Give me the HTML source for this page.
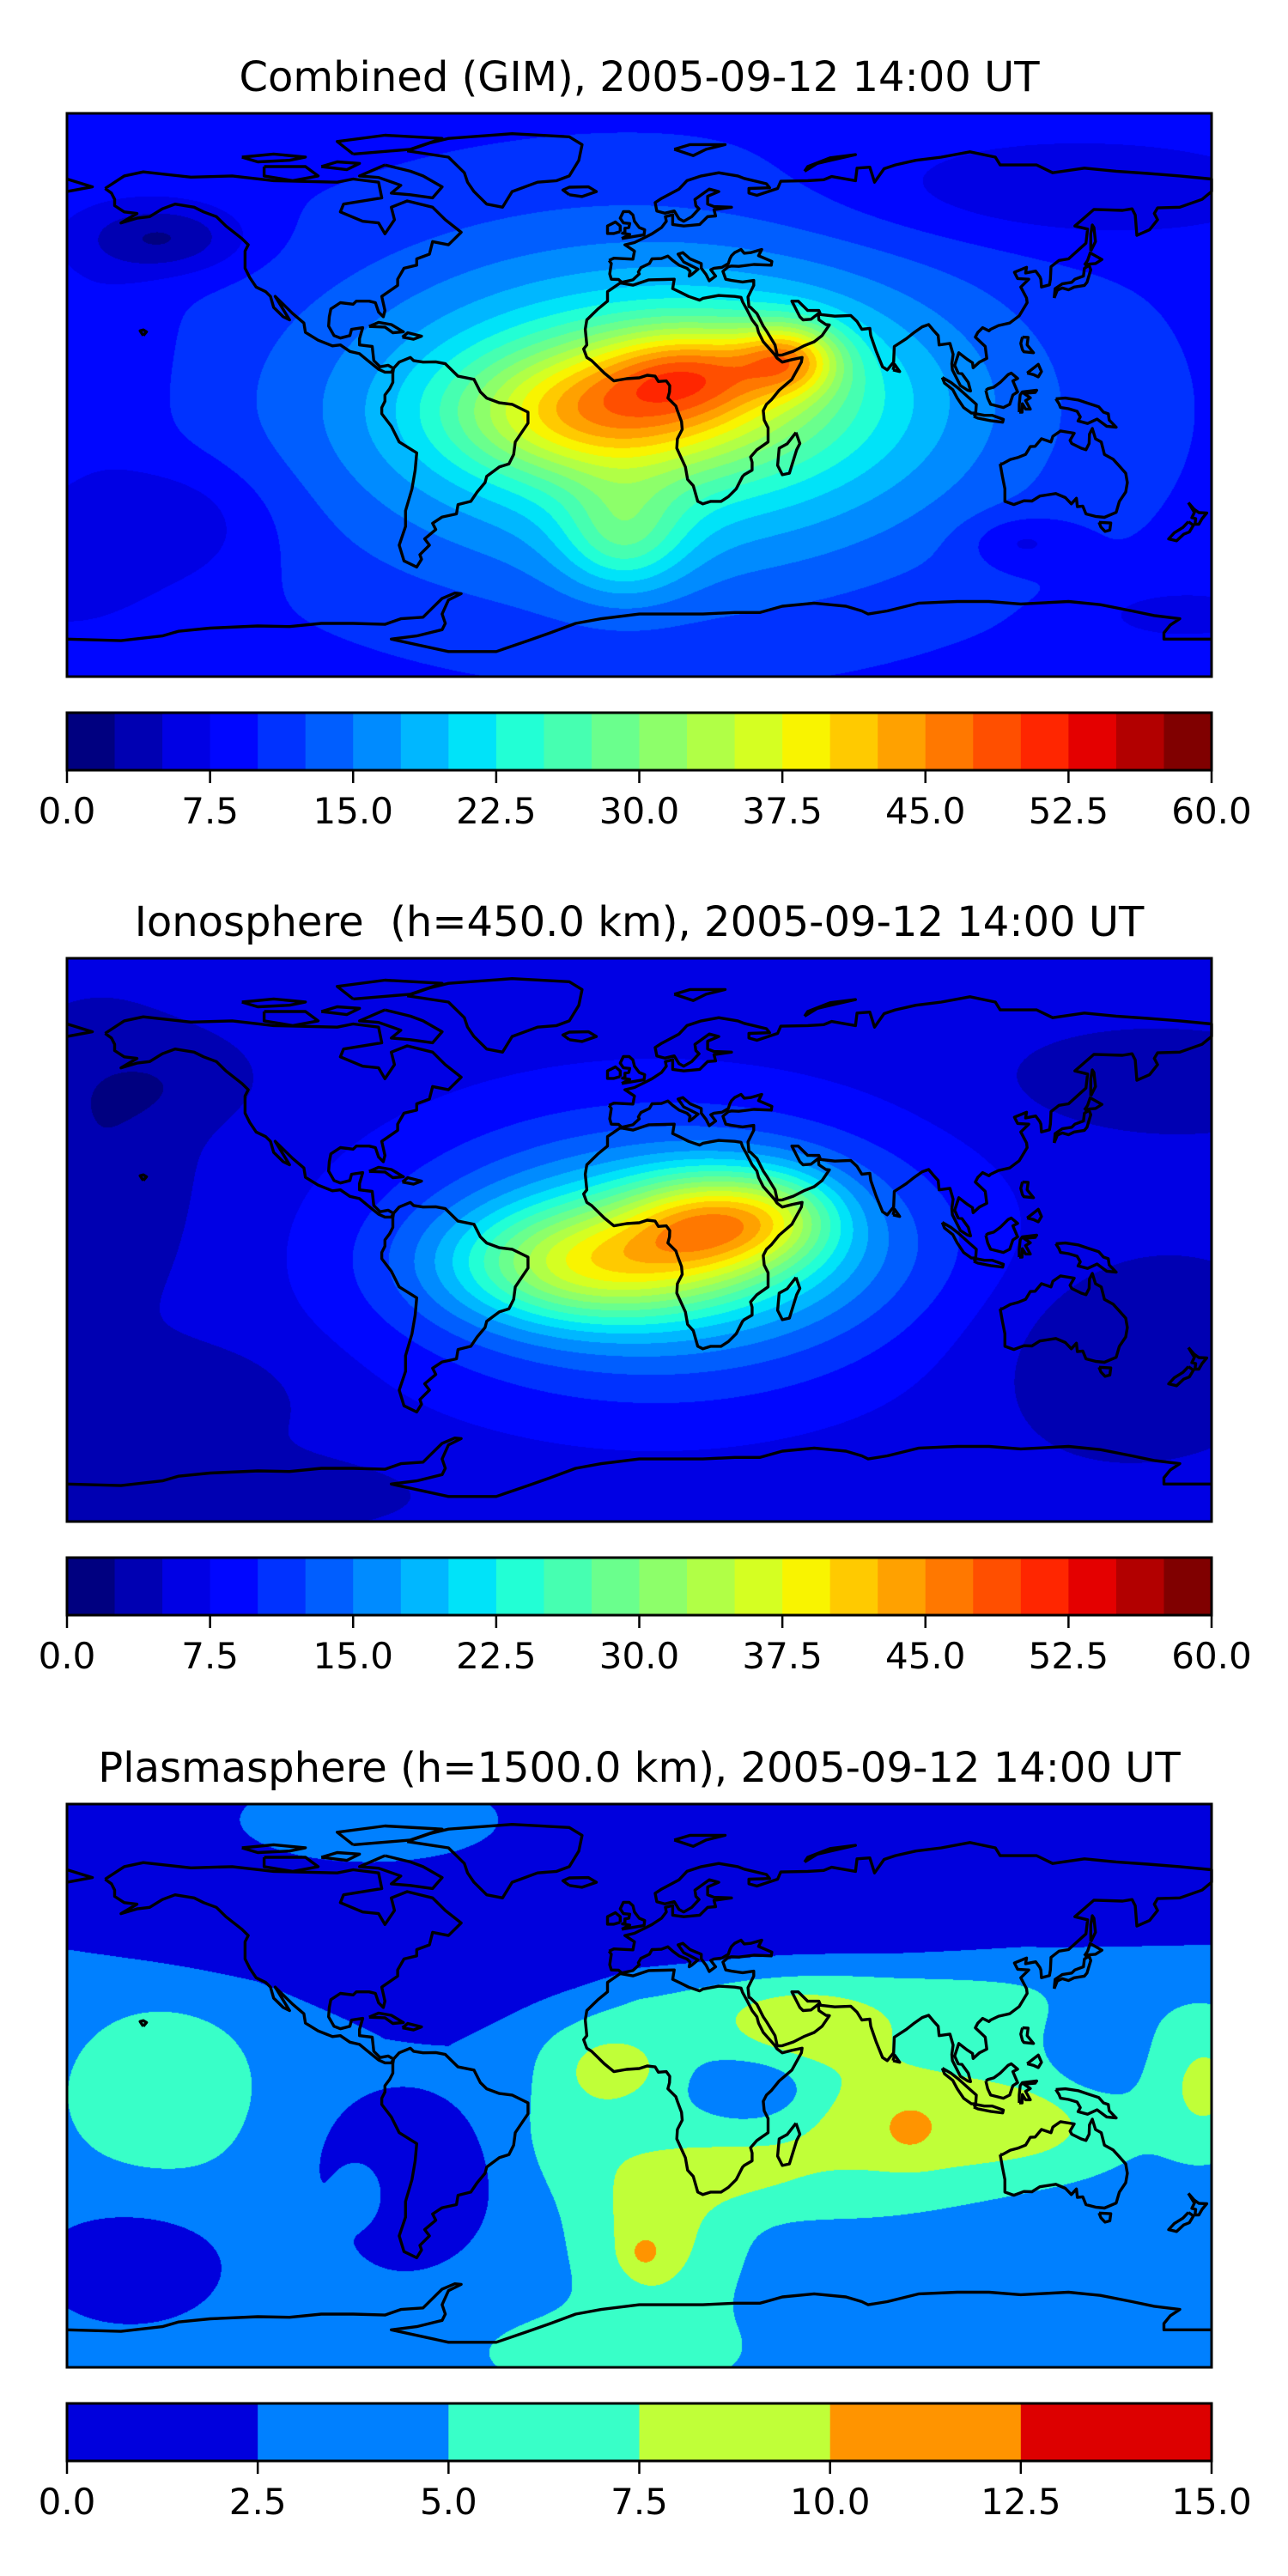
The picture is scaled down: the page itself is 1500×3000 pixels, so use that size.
<!DOCTYPE html>
<html><head><meta charset="utf-8">
<style>
html,body{margin:0;padding:0;background:#fff;}
body{width:1500px;height:3000px;position:relative;overflow:hidden;font-family:"DejaVu Sans","Liberation Sans",sans-serif;}
.title{position:absolute;left:78px;width:1333px;text-align:center;font-size:48px;color:#000;white-space:nowrap;}
.map{position:absolute;left:78px;width:1333px;height:656px;}
.map canvas{position:absolute;left:0;top:0;}
.map svg{position:absolute;left:0;top:0;overflow:visible;}
.cb{position:absolute;left:0;top:0;}
</style></head>
<body>
<div class="title" style="top:62px">Combined (GIM), 2005-09-12 14:00 UT</div>
<div class="map" id="m0" style="top:132px"></div>
<div class="title" style="top:1046px">Ionosphere&nbsp; (h=450.0 km), 2005-09-12 14:00 UT</div>
<div class="map" id="m1" style="top:1116px"></div>
<div class="title" style="top:2031px">Plasmasphere (h=1500.0 km), 2005-09-12 14:00 UT</div>
<div class="map" id="m2" style="top:2101px"></div>
<svg class="cb" id="cbs" width="1500" height="3000"></svg>
<script>
// ---- data ----
// blobs: [lon, lat, amplitude, sigmaLon, sigmaLat]
const combinedBase = 9;
const combinedBlobs = [
 [5,-5,16,72,38],[-18,-6,14,30,14],[18,8,12,20,10],[48,12,15,11,8],[20,0,10,40,18],[-5,-45,10,14,13],
 [-150,50,-7,18,8],[-145,-40,-4,22,14],[120,-47,-4,12,6],[130,65,-4,50,12],[-180,-55,-3,20,15],[170,-70,-3,20,6],
 [-170,10,-2,15,25]
];
const ionoBase = 5.5;
const ionoBlobs = [
 [5,-5,12,60,33],[-18,-8,16,30,13],[22,6,15,18,11],[20,0,10,40,18],[45,8,8,14,10],
 [-170,20,-3,20,30],[-140,-50,-2.5,25,12],[150,-35,-3,30,20],[160,50,-2.5,30,10],[-130,-80,-2.5,40,8],[-150,50,-2,20,10]
];
const plasmaBase = 4;
const plasmaBlobs = [
 [-85,85,2.5,30,10],
 [-75,-30,-4.5,20,20],[-85,-33,3,8,10],[-160,-58,-3.5,22,14],[-150,-3,2.5,22,20],
 [85,-12,5,40,18],[50,18,3,18,10],[85,-14,1.8,6,6],[125,-12,2,15,8],[60,25,2,60,10],
 [-20,-15,2,15,15],[-8,6,4,12,8],[38,-1,-3.5,13,8],[5,-48,4.5,16,20],[1.5,-53.5,2.5,4,4],
 [178,0,4,10,14],[140,10,-1.5,10,12],[130,-48,-1.5,30,10],[-10,-85,2.5,28,9],[30,-28,2.5,18,8]
];
// northern low-density boundary (plasmasphere)
const northBoundLon = [-180,-120,-80,-60,-20,0,40,80,120,180];
const northBoundLat = [42,31,15,12.5,25,33,35.5,38,42,43.5];
const ticksA = ["0.0","7.5","15.0","22.5","30.0","37.5","45.0","52.5","60.0"];
const ticksB = ["0.0","2.5","5.0","7.5","10.0","12.5","15.0"];
const plasmaColors = ["#0000dd","#0080ff","#38ffc8","#c0ff38","#ff9400","#dd0000"];

// ---- coastlines (lon,lat) ----
const coasts = [
[[-168,66],[-162,70],[-156,71.3],[-141,69.6],[-128,70],[-115,68.5],[-95,68],[-90,69],[-82,68],[-81,63],[-93,61],[-94,58.5],[-87,55.5],[-82,55],[-80,51.5],[-77,56],[-78,60],[-73,62],[-65,60],[-61,56],[-56,52],[-60,48],[-65,49],[-66,45],[-70,43.5],[-70,41.5],[-74,40.5],[-76,37],[-76,35],[-81,31.5],[-80,27],[-80.5,25],[-82,26.5],[-83,29.5],[-85,30],[-89,30],[-90,29],[-94,29.5],[-97,27.5],[-97.5,25],[-97.7,22],[-96,19],[-94,18.2],[-91,19],[-90.5,21],[-87,21.5],[-88,18],[-88,16],[-84,15.5],[-83.5,11],[-81.5,9],[-79,9.5],[-77.3,8.5],[-78,7.3],[-80,7.3],[-82,8.2],[-86,11.5],[-88,13.2],[-91,13.9],[-94,16],[-96.5,15.7],[-101,17.5],[-105,20],[-105.5,23],[-109,26],[-112.5,29.5],[-114.5,31.5],[-113,29],[-110,24],[-112,25],[-115,28],[-116,31.5],[-117.5,33],[-120.5,34.5],[-122.5,37.5],[-124,40.5],[-124,46],[-123,48],[-125,50],[-130,54],[-133,57],[-137,58.5],[-140,60],[-146,61],[-150,59.5],[-154,57],[-158,56.5],[-163,55],[-158,58],[-162,58.5],[-165,60.5],[-165,62.5],[-166,64.5],[-168,66]],
[[-73,78],[-66,80.5],[-60,82],[-40,83.5],[-22,82.5],[-18,80],[-19,75],[-22,70],[-26,68.5],[-32,68],[-40,65],[-43,60],[-48,61],[-52,65],[-54,68],[-55,71],[-60,76],[-73,78]],
[[-80,73.5],[-72,71.5],[-68,70],[-62,66.5],[-65,63],[-72,64],[-78,64.5],[-75,67],[-82,69.5],[-88,70],[-80,73.5]],
[[-118,73],[-105,73],[-101,70],[-109,68.5],[-118,70],[-118,73]],
[[-90,77],[-72,78.5],[-62,82],[-80,83],[-95,81],[-90,77]],
[[-125,76],[-115,77],[-105,76],[-110,75],[-120,74.5],[-125,76]],
[[-100,73],[-95,74.5],[-88,74],[-92,72],[-100,73]],
[[-77.3,8.5],[-75.5,10.5],[-72,12],[-71,11],[-68,10.5],[-64,10.6],[-61,10],[-57,6],[-52,5],[-50,1],[-48,-1],[-44,-2.5],[-40,-3],[-35,-5.5],[-35,-9],[-37,-12],[-39,-15],[-39.5,-19],[-41,-22],[-44,-23],[-48,-26],[-48.5,-28],[-51,-31],[-53,-34],[-57,-35],[-57.5,-38],[-62,-39],[-65,-41],[-64,-43],[-67.5,-46],[-66,-48],[-69,-51],[-68.5,-52.5],[-70,-55],[-74,-53],[-75.5,-48],[-73.5,-42],[-73.5,-37],[-71.5,-30],[-70.5,-24],[-70,-18.5],[-75.5,-15],[-78,-10],[-81,-6],[-81,-4],[-80,-2],[-80,0],[-78.5,2],[-77.5,4],[-77.5,7],[-77.3,8.5]],
[[-6,35.8],[-10,33],[-10,30],[-13,27.5],[-16.5,24],[-17,21],[-16.5,16],[-17.5,14.7],[-16.5,12],[-15,11],[-13,9],[-11,7],[-8,4.5],[-4,5.2],[0,5.5],[2.5,6.3],[5,6],[6,4.3],[8.5,4.5],[9.6,3],[9.5,1],[9,-1],[11.5,-3.5],[12,-5],[13.3,-8.5],[13.5,-11],[12,-14],[11.8,-17],[14.5,-23],[15.2,-27],[17,-29],[18.4,-34],[20,-34.8],[22.5,-34],[25.7,-34],[28,-32.5],[30.5,-30],[32.5,-26],[33,-25.5],[35.5,-24],[35.5,-21.5],[35,-19.8],[37,-17.5],[40.5,-15],[40.5,-10.5],[39.3,-8],[39,-5],[40,-3],[41.5,-1.6],[44,1.5],[48,5],[51,10.5],[51.2,12],[48,11.3],[45,10.5],[43.3,11.8],[42.5,13],[39,17],[37.5,20],[37,22],[35.5,24],[34,27],[32.5,29.8],[32,31.2],[30,31.5],[25,31.8],[20,30.9],[19,30.3],[15.5,31.5],[13,32.8],[10.5,34],[11,37],[8,36.9],[3,36.8],[-2,35.1],[-6,35.8]],
[[49.3,-12],[50.5,-15.5],[49.5,-17.5],[47.2,-25],[45,-25.5],[43.5,-22.5],[44,-17],[46.5,-15.6],[49.3,-12]],
[[-9.5,43],[-8,43.7],[-2,43.4],[-1.5,46],[-4.5,48],[-1.5,48.7],[1.5,50.2],[4,51.5],[7,53.5],[8.5,55.5],[8.2,57],[10.5,57.6],[10.5,54.5],[14,54],[19,54.5],[21.5,57],[24,57.2],[23.5,59.2],[29,60],[23.5,60.2],[21.5,61],[21.5,63.5],[25,65],[22,65.8],[17.5,62.5],[17.8,60.5],[18.8,59.5],[16.5,57],[14,55.5],[12.5,56.3],[11,58.8],[8,58.1],[5.5,58.8],[5,61.5],[7,62.8],[12.5,65.8],[15,68.5],[19.5,70],[25,71],[31,70],[33,69.2],[40,67.5],[41,66.2],[34.5,66],[34.5,64.5],[37,63.8],[43.5,66],[44.5,68.3],[53,68.5],[58,68.8],[60.5,69.8],[68,68.5],[68.5,72.5],[72.5,72.8],[74,68],[77,72.3],[80.5,73.5],[87,75],[95,76],[104,77.7],[112,76],[113.5,73.5],[125,73.5],[130,71],[140,72.5],[150,71.5],[160,70.8],[170,70],[180,69],[180,65],[177,62.5],[170,60],[163,59.8],[162,58],[163,56],[160.5,52.8],[156.5,51],[156,57.5],[155,59.5],[152,59],[143,59.3],[137,54],[141,53],[140.5,48.5],[135,43.5],[132,43],[129.5,41],[129.3,37],[129,35.2],[126.5,34.5],[126.3,37],[126,37.8],[124.7,39.6],[121.5,39],[121.8,40.8],[118,39.2],[119,37.2],[122.5,37],[120,34.5],[121.8,31],[122,29.5],[119.5,25.3],[116.5,23],[113,22.2],[110.5,21],[110,20.5],[108,21.5],[106.5,20],[105.7,18.5],[108.8,15.5],[109.3,11.7],[107,10.5],[105,8.7],[104.8,10.3],[103,11.5],[100.5,13.5],[100,12],[99.2,9.5],[100.3,7],[101.5,6.8],[103.5,4],[104.2,1.3],[103.3,1.5],[101,3],[98.5,8],[98.3,10],[98.7,13],[97.7,16.5],[94.3,16],[94,19],[92.5,20.7],[91,22.5],[89,21.8],[86.5,20],[84,18],[80.2,15.5],[80,10.5],[78,8],[76.5,9],[74.5,14],[72.8,19],[72.5,21.3],[70,21],[68.5,23.5],[66.5,25.4],[61.5,25.2],[57,25.7],[56.5,27],[53,27],[50,30],[48,30],[49.5,27],[50.5,25],[51.5,24],[54,24.2],[56.3,26],[56.5,24],[58.7,22.5],[59.8,22.4],[57.5,19],[55,17],[52,15.8],[48.5,14],[45,12.8],[43.4,12.7],[42.7,16],[40,20.5],[39,22],[37,26],[35,28],[34.5,28.2],[34.2,31.3],[35,33],[36,35],[36,36.6],[32.5,36.1],[29,36.6],[27.2,37],[26.3,39.5],[28,41],[29,41.2],[31.3,41.1],[36,41.7],[41.5,41.5],[41.7,42.7],[37.5,44.5],[38.5,46.5],[35,45.5],[33,45.3],[32,46.5],[30,45.5],[29,44.5],[28.5,43.5],[28,42],[26,40.8],[23.5,40.5],[22.5,40],[24,38],[22,36.5],[21,38.5],[19.5,40.5],[19.5,42],[16,43.5],[13.7,45.5],[12.2,45],[14,42.5],[16,41.5],[18.5,40.2],[16.5,38.5],[15.7,38],[16,39.5],[15,40.5],[12.5,41.5],[10.5,43],[9,44.4],[7,43.6],[4,43.5],[3.2,42],[0.5,40.7],[-0.3,39.3],[0,38.7],[-2,36.8],[-5.5,36],[-6.5,36.9],[-8.8,37],[-9.3,38.7],[-8.8,42],[-9.5,43]],
[[-180,69],[-172,66.5],[-180,65]],
[[-5.5,50],[1.5,51.2],[1.7,52.8],[0,53.5],[-1.5,55.5],[-2,57.5],[-3.2,58.6],[-5,58.6],[-6,56.5],[-5,55],[-3,54.8],[-3.3,53.5],[-4.5,53.3],[-4.5,52],[-5.3,51.7],[-3,51.3],[-5.5,50]],
[[-6,52.2],[-6,54],[-7.5,55.3],[-10,54],[-10,51.6],[-8,51.6],[-6,52.2]],
[[-22,64],[-24,65.5],[-22,66.4],[-16,66.5],[-13.5,65],[-18,63.4],[-22,64]],
[[130.5,31],[131.5,33.5],[133,34.2],[135,33.6],[136.8,34.5],[140,35],[140.8,36],[141.5,38.3],[142,40],[141.5,41.4],[140,40.5],[139.7,38],[137,37],[136,36],[133,35.5],[130.8,34],[130.5,31]],
[[140,41.5],[141,43],[141.8,45.4],[145.5,43.3],[143.5,42],[141,41.8],[140,41.5]],
[[142,46],[143.5,49],[143,53.5],[142.5,54.3],[142,51.5],[142,46]],
[[120.5,18.5],[122.3,18.4],[122,16],[124,13.5],[121,13.8],[120.5,14.5],[120,16.5],[120.5,18.5]],
[[122,7],[125.5,9.8],[126.5,7.5],[125.5,5.8],[124,6.5],[122,7]],
[[109,1.5],[109.6,-1],[110.5,-3],[114.5,-4],[116.5,-3],[117.5,0],[119,1],[117.5,4.5],[119,5.3],[117,7],[116,6.5],[113.5,4],[111.5,2.5],[109.7,2],[109,1.5]],
[[95.3,5.6],[98,4],[100.3,2.2],[103.8,-1],[106,-3],[105.8,-5.8],[104.5,-5.8],[102,-4],[100,-1],[98.6,1.7],[96,3.8],[95.3,5.6]],
[[105.2,-6.8],[106,-6],[108.5,-6.5],[111,-6.5],[114.5,-7.8],[114.3,-8.7],[110.5,-8.2],[106.5,-7.4],[105.2,-6.8]],
[[119.5,-5.5],[120.4,-5.5],[120.5,-2.8],[121.5,-4.5],[123,-4.5],[121.5,-1.8],[123,-0.9],[121,0.5],[124.5,0.8],[125,1.5],[120.5,1],[119.8,0],[119.5,-3],[119.5,-5.5]],
[[131,-1.2],[134,-1],[138,-1.6],[141,-2.6],[144.5,-3.8],[146,-5.5],[147.5,-6],[147.8,-8],[150,-10.3],[147,-10],[144,-7.7],[141,-9.1],[138,-8.3],[138.7,-7],[137.7,-5.2],[135,-4.4],[132.5,-4],[132,-2.8],[131,-1.2]],
[[113.5,-22],[114.2,-26],[115,-30],[115,-34],[117.8,-35],[121,-33.8],[123.5,-33.9],[126,-32.3],[131,-31.5],[134,-32.8],[135.9,-34.8],[137.5,-33],[137.8,-35.7],[139.5,-35.5],[140.5,-38],[143.5,-38.8],[146.3,-39.1],[150,-37.5],[151,-34],[153,-31],[153.5,-28],[153,-25],[150.8,-22.5],[149,-20.5],[146.3,-19],[145.3,-15],[143.5,-14],[142.5,-10.7],[141.6,-12.5],[141.5,-15.5],[140.5,-17.5],[139,-17],[136,-15.5],[135.5,-14.5],[136.8,-12.2],[132.5,-11.5],[130.1,-13.2],[129.5,-15],[126.5,-14],[124.5,-16.4],[123,-16.5],[121.5,-19],[119,-20],[116.7,-20.6],[114.2,-22],[113.5,-22]],
[[144.6,-40.7],[148.3,-40.9],[148,-43.2],[146.5,-43.6],[145.2,-42.2],[144.6,-40.7]],
[[172.7,-34.4],[174.5,-36.5],[176,-37.6],[178.5,-37.7],[177,-39.5],[176,-41.3],[174.8,-41.3],[175,-39.5],[173.8,-39.2],[174.6,-37.5],[172.7,-34.4]],
[[172.7,-40.5],[174.3,-41.6],[173,-43.8],[171.2,-44.5],[169,-46.6],[166.5,-46],[168.3,-44],[171,-42.3],[172.7,-40.5]],
[[79.8,8],[81.9,7.5],[80.3,9.8],[79.8,8]],
[[-85,21.9],[-82,23.2],[-78,22.5],[-74.2,20.2],[-77.5,19.9],[-80,21.7],[-85,21.9]],
[[-74.5,18.5],[-72.8,19.9],[-68.5,18.8],[-71,17.8],[-74.5,18.5]],
[[52,71.5],[56,74],[68,76.8],[60,75.8],[53,73],[52,71.5]],
[[11,78.5],[16,80],[27,80],[21,78.5],[17,76.5],[11,78.5]],
[[-156,19],[-155,20.2],[-156,20.8],[-157,20.5],[-156,19]],
[[-180,-78],[-163,-78.5],[-150,-77],[-145,-75.5],[-135,-74.5],[-120,-73.8],[-110,-74],[-100,-73],[-90,-73],[-80,-73.3],[-75,-71.5],[-68,-71],[-65,-68],[-62,-65],[-58,-63.3],[-56,-63.5],[-60,-65.5],[-62,-70],[-61,-73],[-62,-75],[-70,-77],[-78,-78],[-60,-82],[-45,-82],[-35,-78.5],[-28,-76],[-20,-73],[-12,-71.5],[0,-70],[10,-70],[20,-70],[30,-69.5],[38,-69.5],[45,-67.5],[55,-66.5],[65,-67.5],[70,-69],[72,-70],[78,-69],[88,-66.5],[100,-66],[110,-66],[120,-66.8],[135,-66],[145,-67],[155,-69],[162,-70.5],[170,-71.5],[167,-73.5],[165,-76],[165,-78],[170,-78],[180,-78]]
];

const W = 1333, H = 656;
function xOf(lon){ return (lon+180)/360*W; }
function yOf(lat){ return (90-lat)/180*H; }
function lonOf(px){ return px/W*360-180; }
function latOf(py){ return 90-py/H*180; }

function jetMpl(x){
  function seg(pts){ for(let i=0;i<pts.length-1;i++){ const a=pts[i],b=pts[i+1]; if(x>=a[0]&&x<=b[0]){ return a[1]+(b[1]-a[1])*(x-a[0])/(b[0]-a[0]); } } return pts[pts.length-1][1]; }
  const r=seg([[0,0],[0.35,0],[0.66,1],[0.89,1],[1,0.5]]);
  const g=seg([[0,0],[0.125,0],[0.375,1],[0.64,1],[0.91,0],[1,0]]);
  const b=seg([[0,0.5],[0.11,1],[0.34,1],[0.65,0],[1,0]]);
  return [Math.round(r*255),Math.round(g*255),Math.round(b*255)];
}
function hex(c){ return [parseInt(c.slice(1,3),16),parseInt(c.slice(3,5),16),parseInt(c.slice(5,7),16)]; }

const jet24 = []; for(let i=0;i<24;i++) jet24.push(jetMpl(i/23));
const plasma6 = plasmaColors.map(hex);

function northBound(lon){
  for(let i=0;i<northBoundLon.length-1;i++){
    const a=northBoundLon[i], b=northBoundLon[i+1];
    if(lon>=a && lon<=b){ const t=(lon-a)/(b-a); return northBoundLat[i]+(northBoundLat[i+1]-northBoundLat[i])*t; }
  }
  return northBoundLat[northBoundLat.length-1];
}
function field(base, blobs, lon, lat, north){
  let v = base;
  for(const b of blobs){
    const dx=(lon-b[0])/b[3], dy=(lat-b[1])/b[4];
    v += b[2]*Math.exp(-(dx*dx+dy*dy)/2);
  }
  if(north){ v += -2.5/(1+Math.exp(-(lat-northBound(lon))/3)); }
  return v;
}

function drawMap(id, base, blobs, step, cols, name, north){
  const host = document.getElementById(id);
  const cv = document.createElement('canvas');
  
  
  cv.width=W; cv.height=H;
  host.appendChild(cv);
  const ctx=cv.getContext('2d');
  const img=ctx.createImageData(W,H);
  const n=cols.length;
  for(let py=0;py<H;py++){
    const lat=latOf(py+0.5);
    for(let px=0;px<W;px++){
      const v=field(base,blobs,lonOf(px+0.5),lat,north);
      let k=Math.floor(v/step); if(k<0)k=0; if(k>n-1)k=n-1;
      const c=cols[k], o=(py*W+px)*4;
      img.data[o]=c[0]; img.data[o+1]=c[1]; img.data[o+2]=c[2]; img.data[o+3]=255;
    }
  }
  ctx.putImageData(img,0,0);
  const ns='http://www.w3.org/2000/svg';
  const svg=document.createElementNS(ns,'svg');
  svg.setAttribute('width',W); svg.setAttribute('height',H);
  
  
  for(const poly of coasts){
    const pl=document.createElementNS(ns,'polyline');
    
    
    pl.setAttribute('points', poly.map(p=>xOf(p[0]).toFixed(1)+','+yOf(p[1]).toFixed(1)).join(' '));
    pl.setAttribute('fill','none'); pl.setAttribute('stroke','#000'); pl.setAttribute('stroke-width','3.4'); pl.setAttribute('stroke-linejoin','round');
    svg.appendChild(pl);
  }
  const fr=document.createElementNS(ns,'rect');
  
  
  fr.setAttribute('x',0); fr.setAttribute('y',0); fr.setAttribute('width',W); fr.setAttribute('height',H);
  fr.setAttribute('fill','none'); fr.setAttribute('stroke','#000'); fr.setAttribute('stroke-width','3');
  svg.appendChild(fr);
  host.appendChild(svg);
}

drawMap('m0', combinedBase, combinedBlobs, 2.5, jet24, 'combined', false);
drawMap('m1', ionoBase, ionoBlobs, 2.5, jet24, 'ionosphere', false);
drawMap('m2', plasmaBase, plasmaBlobs, 2.5, plasma6, 'plasmasphere', true);

function drawColorbar(top, cols, ticks, name){
  const ns='http://www.w3.org/2000/svg', svg=document.getElementById('cbs');
  const x0=78, w=W, h=67, n=cols.length;
  for(let i=0;i<n;i++){
    const r=document.createElementNS(ns,'rect');
    
    
    r.setAttribute('x',(x0+i*w/n).toFixed(2)); r.setAttribute('y',top);
    r.setAttribute('width',(w/n+0.6).toFixed(2)); r.setAttribute('height',h);
    const c=cols[i]; r.setAttribute('fill','rgb('+c[0]+','+c[1]+','+c[2]+')');
    svg.appendChild(r);
  }
  const fr=document.createElementNS(ns,'rect');
  
  
  fr.setAttribute('x',x0); fr.setAttribute('y',top); fr.setAttribute('width',w); fr.setAttribute('height',h);
  fr.setAttribute('fill','none'); fr.setAttribute('stroke','#000'); fr.setAttribute('stroke-width','3');
  svg.appendChild(fr);
  const m=ticks.length;
  for(let i=0;i<m;i++){
    const x=x0+i*w/(m-1);
    const t=document.createElementNS(ns,'line');
    
    
    t.setAttribute('x1',x); t.setAttribute('x2',x); t.setAttribute('y1',top+h); t.setAttribute('y2',top+h+15);
    t.setAttribute('stroke','#000'); t.setAttribute('stroke-width','2.5');
    svg.appendChild(t);
    const tx=document.createElementNS(ns,'text');
    
    
    tx.setAttribute('x',x); tx.setAttribute('y',top+h+62);
    tx.setAttribute('text-anchor','middle'); tx.setAttribute('font-size','42');
    tx.setAttribute('font-family','DejaVu Sans, Liberation Sans, sans-serif');
    tx.textContent=ticks[i];
    svg.appendChild(tx);
  }
}
drawColorbar(830, jet24, ticksA, 'combined');
drawColorbar(1814, jet24, ticksA, 'ionosphere');
drawColorbar(2799, plasma6, ticksB, 'plasmasphere');
</script>
</body></html>
